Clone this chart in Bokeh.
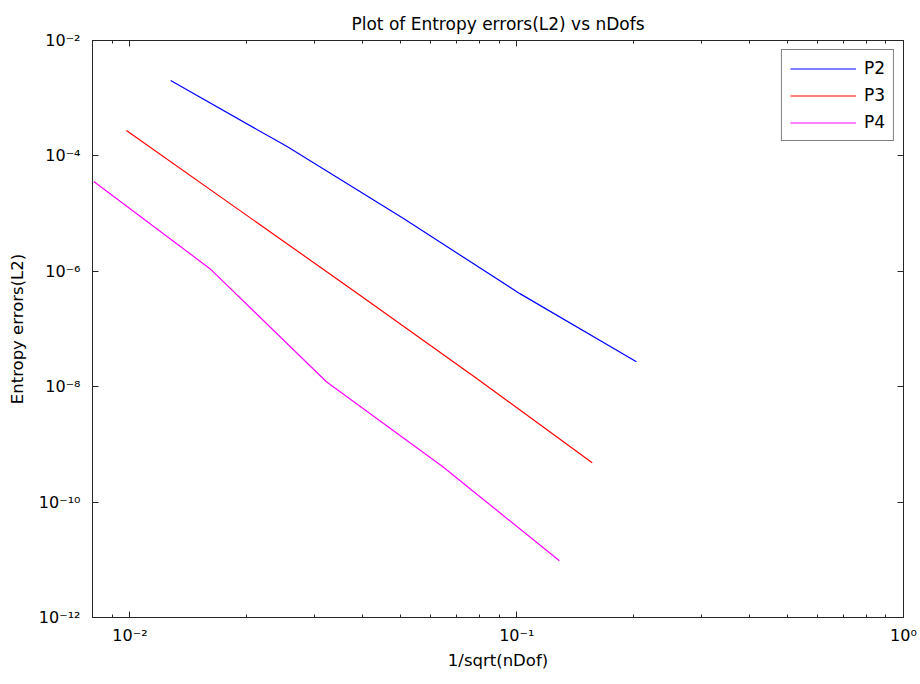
from bokeh.plotting import figure
from bokeh.models import (LogAxis, FixedTicker, CustomJSTickFormatter, Range1d,
                          Legend, LegendItem, LogScale)
from bokeh.embed import file_html
from bokeh.resources import INLINE

# Data (x = 1/sqrt(nDof), y = entropy L2 error)
p2_x = [0.01274, 0.02548, 0.05097, 0.1019, 0.2039]
p2_y = [2.02e-3, 1.45e-4, 8.2e-6, 4.1e-7, 2.7e-8]

p3_x = [0.00979, 0.01958, 0.03916, 0.07833, 0.1567]
p3_y = [2.75e-4, 1.04e-5, 3.94e-7, 1.43e-8, 4.8e-10]

p4_x = [0.00806, 0.0161, 0.0322, 0.0644, 0.1289]
p4_y = [3.59e-5, 1.11e-6, 1.22e-8, 4.1e-10, 9.6e-12]

series_names = ["P2", "P3", "P4"]
series_colors = ["#0000ff", "#ff0000", "#ff00ff"]

x_major = [0.01, 0.1, 1.0]
x_minor = [0.008, 0.009, 0.02, 0.03, 0.04, 0.05, 0.06, 0.07, 0.08, 0.09,
           0.2, 0.3, 0.4, 0.5, 0.6, 0.7, 0.8, 0.9]
y_major = [1e-12, 1e-10, 1e-8, 1e-6, 1e-4, 1e-2]

FONT = "DejaVu Sans"
AXC = "#262626"

p = figure(width=920, height=684, x_axis_type=None, y_axis_type=None,
           x_range=Range1d(0.008, 1.0), y_range=Range1d(1e-12, 1e-2),
           output_backend="svg", toolbar_location=None,
           min_border_left=92, min_border_right=17, min_border_top=40,
           min_border_bottom=67,
           title="Plot of Entropy errors(L2) vs nDofs")
p.x_scale = LogScale()
p.y_scale = LogScale()

p.title.align = "center"
p.title.text_font = FONT
p.title.text_font_size = "17px"
p.title.text_font_style = "normal"
p.title.text_color = "black"
p.title.offset = 0
p.title.standoff = 14

p.xgrid.visible = False
p.ygrid.visible = False
p.outline_line_color = AXC
p.background_fill_color = "white"
p.border_fill_color = "white"

fmt_code = """
const e = Math.round(Math.log10(tick));
const sup = {'-':'\u207b','0':'\u2070','1':'\u00b9','2':'\u00b2','3':'\u00b3',
             '4':'\u2074','5':'\u2075','6':'\u2076','7':'\u2077','8':'\u2078','9':'\u2079'};
return '10' + String(e).split('').map(c => sup[c]).join('');
"""


def make_axis(ticker, labels=True, label_text=None):
    ax = LogAxis(ticker=ticker)
    ax.major_tick_in = 6
    ax.major_tick_out = 0
    ax.minor_tick_in = 3
    ax.minor_tick_out = 0
    ax.axis_line_color = AXC
    ax.major_tick_line_color = AXC
    ax.minor_tick_line_color = AXC
    if labels:
        ax.formatter = CustomJSTickFormatter(code=fmt_code)
        ax.major_label_text_font = FONT
        ax.major_label_text_font_size = "16px"
        ax.major_label_text_color = "black"
        ax.major_label_standoff = 8
        if label_text:
            ax.axis_label = label_text
            ax.axis_label_text_font = FONT
            ax.axis_label_text_font_size = "16.5px"
            ax.axis_label_text_font_style = "normal"
            ax.axis_label_text_color = "black"
    else:
        ax.major_label_text_font_size = "0px"
        ax.major_label_standoff = 0
        ax.formatter = CustomJSTickFormatter(code="return '';")
    return ax


xt = FixedTicker(ticks=x_major, minor_ticks=x_minor)
yt = FixedTicker(ticks=y_major, minor_ticks=[])

xb = make_axis(xt, True, "1/sqrt(nDof)")
xb.axis_label_standoff = 3
yl = make_axis(yt, True, "Entropy errors(L2)")
yl.axis_label_standoff = 9
yl.major_label_standoff = 12
p.add_layout(xb, "below")
p.add_layout(yl, "left")
p.add_layout(make_axis(xt, False), "above")
p.add_layout(make_axis(yt, False), "right")

items = []
for name, xs, ys, col in zip(series_names, [p2_x, p3_x, p4_x],
                             [p2_y, p3_y, p4_y], series_colors):
    r = p.line(xs, ys, line_color=col, line_width=1.2)
    items.append(LegendItem(label=name, renderers=[r]))

legend = Legend(items=items, location="top_right")
legend.label_text_font = FONT
legend.label_text_font_size = "17px"
legend.label_text_color = "black"
legend.glyph_width = 66
legend.glyph_height = 19
legend.label_height = 19
legend.spacing = 7
legend.padding = 8
legend.margin = 9
legend.label_standoff = 8
legend.border_line_color = "black"
legend.border_line_width = 1
legend.background_fill_color = "white"
legend.background_fill_alpha = 1.0
p.add_layout(legend)

open("out.html", "w").write(file_html(p, INLINE))
